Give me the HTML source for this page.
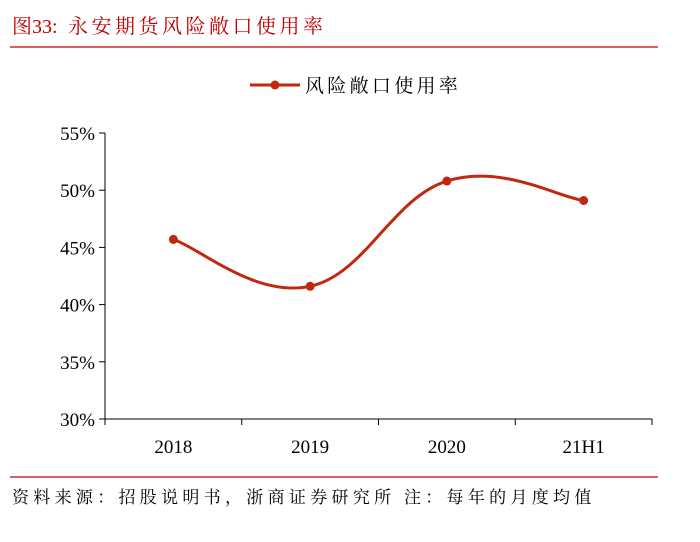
<!DOCTYPE html>
<html><head><meta charset="utf-8"><style>
body{margin:0;background:#fff;width:700px;height:537px;overflow:hidden}
svg text{font-family:"Liberation Serif","Noto Serif CJK SC",serif}
</style></head><body>
<svg width="700" height="537">
<text x="12" y="33" font-size="20" fill="#c00000">图33:<tspan x="68" letter-spacing="3.5">永安期货风险敞口使用率</tspan></text>
<line x1="10" y1="47" x2="658" y2="47" stroke="#c00000" stroke-width="1.3"/>
<g>
<line x1="250" y1="85" x2="300" y2="85" stroke="#c0280f" stroke-width="3"/>
<circle cx="275" cy="85" r="4.5" fill="#c0280f"/>
<text x="305" y="92" font-size="19" letter-spacing="3.3" fill="#000">风险敞口使用率</text>
</g>
<g id="axes"></g>
<path id="line" fill="none" stroke="#c0280f" stroke-width="3"/>
<g id="pts"></g>
<line x1="10" y1="477" x2="658" y2="477" stroke="#c00000" stroke-width="1.3"/>
<text x="12" y="503" font-size="17" letter-spacing="4.3" fill="#000">资料来源：招股说明书，浙商证券研究所 注：每年的月度均值</text>
</svg>
<script>
const categories=["2018","2019","2020","21H1"];
const values=[45.7,41.6,50.8,49.1];
const yTicks=[30,35,40,45,50,55];
const ns="http://www.w3.org/2000/svg";
const x0=105,x1=652,yTop=133,yBot=419,yMin=30,yMax=55;
const bw=(x1-x0)/categories.length;
function X(i){return x0+bw*(i+0.5);}
function Y(v){return yBot-(v-yMin)/(yMax-yMin)*(yBot-yTop);}
function mk(tag,attrs,parent){const e=document.createElementNS(ns,tag);for(const k in attrs)e.setAttribute(k,attrs[k]);parent.appendChild(e);return e;}
const ax=document.getElementById('axes');
let a=mk('line',{x1:x0,y1:yTop,x2:x0,y2:yBot,stroke:'#000','stroke-width':1},ax);


a=mk('line',{x1:x0,y1:yBot,x2:x1,y2:yBot,stroke:'#000','stroke-width':1},ax);


yTicks.forEach(t=>{
 const y=Y(t);
 let l=mk('line',{x1:x0-6,y1:y,x2:x0,y2:y,stroke:'#000'},ax);
 
 
 let tx=mk('text',{x:x0-10,y:y+7,'text-anchor':'end','font-size':19},ax);
 tx.textContent=t+'%';
 
 
});
for(let i=0;i<=categories.length;i++){
 let l=mk('line',{x1:x0+bw*i,y1:yBot,x2:x0+bw*i,y2:yBot+6,stroke:'#000'},ax);
 
 
}
categories.forEach((c,i)=>{
 let tx=mk('text',{x:X(i),y:yBot+34,'text-anchor':'middle','font-size':19},ax);
 tx.textContent=c;
 
 
});
const P=values.map((v,i)=>[X(i),Y(v)]);
let d='M'+P[0][0]+','+P[0][1];
for(let i=0;i<P.length-1;i++){
 const p0=P[Math.max(i-1,0)],p1=P[i],p2=P[i+1],p3=P[Math.min(i+2,P.length-1)];
 const t=0.2;
 const c1=[p1[0]+(p2[0]-p0[0])*t,p1[1]+(p2[1]-p0[1])*t];
 const c2=[p2[0]-(p3[0]-p1[0])*t,p2[1]-(p3[1]-p1[1])*t];
 d+=` C${c1[0]},${c1[1]} ${c2[0]},${c2[1]} ${p2[0]},${p2[1]}`;
}
document.getElementById('line').setAttribute('d',d);
const pg=document.getElementById('pts');
P.forEach(p=>{
 let c=mk('circle',{cx:p[0],cy:p[1],r:4.5,fill:'#c0280f'},pg);
 
 
});
</script>
</body></html>
